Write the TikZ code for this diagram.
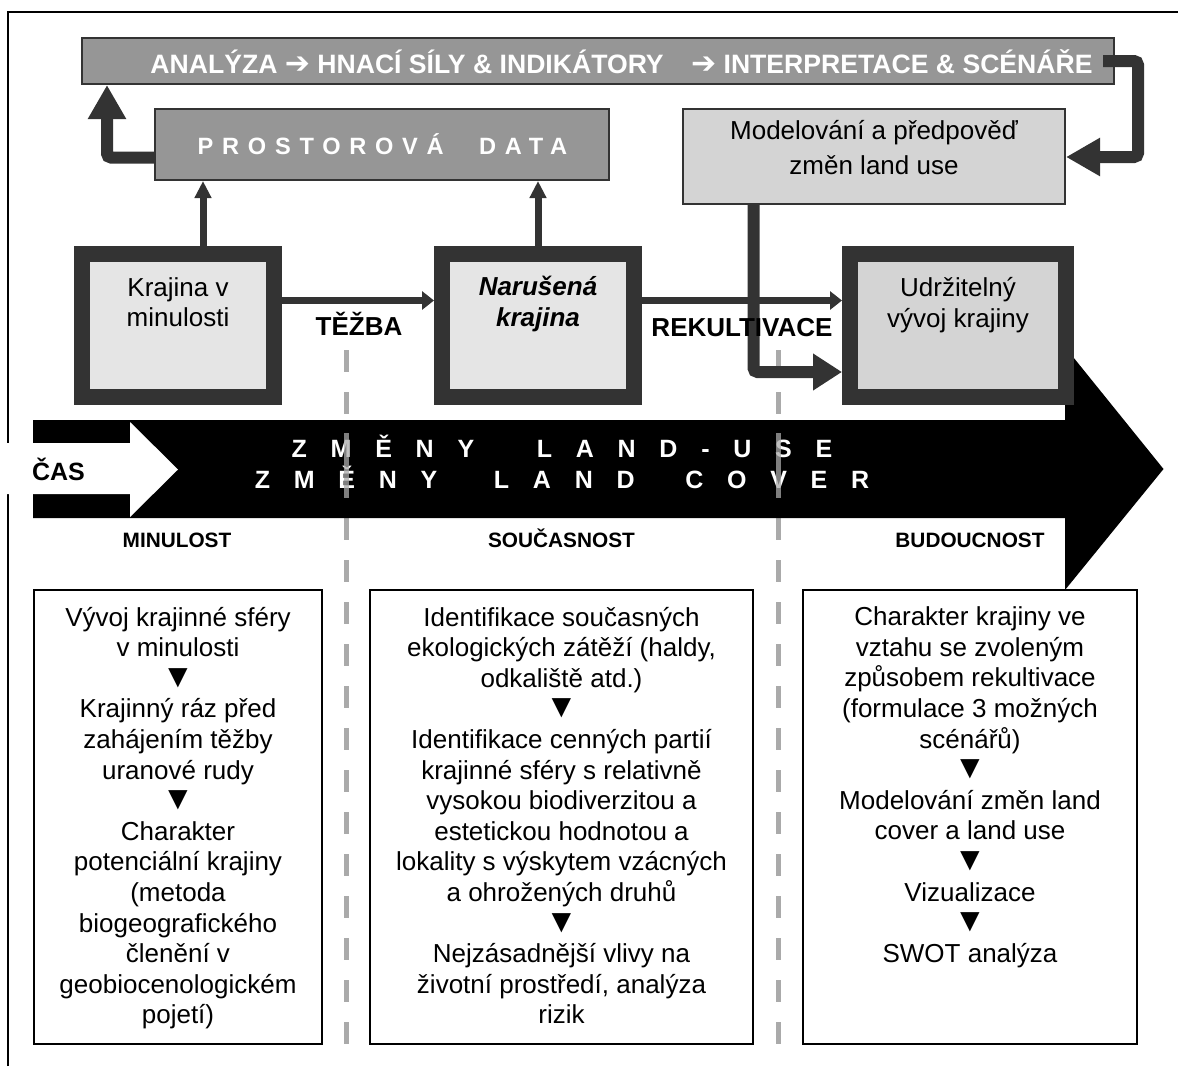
\documentclass[tikz,border=0pt]{standalone}
\usepackage{fontspec}
\setmainfont{Liberation Sans}
\newfontfamily\arrowfont{DejaVu Sans}
\newfontfamily\spacedfont[LetterSpace=37]{Liberation Sans}
\newfontfamily\widefont[LetterSpace=95]{Liberation Sans}
\usetikzlibrary{arrows.meta,positioning}

\definecolor{darkline}{HTML}{333333}
\definecolor{bargray}{HTML}{969696}
\definecolor{boxgray}{HTML}{D4D4D4}
\definecolor{palegray}{HTML}{E5E5E5}
\definecolor{dashgray}{HTML}{AAAAAA}

\newcommand{\nextstep}{{\fontsize{16.5pt}{15.3pt}\selectfont ▼}}
\newcommand{\thenarrow}{{\arrowfont\fontsize{15pt}{15pt}\selectfont ➔}}

\begin{document}
\begin{tikzpicture}[x=0.5pt, y=-0.5pt,
		every node/.style={inner sep=0pt},
		txt/.style={font=\fontsize{13pt}{15.3pt}\selectfont, align=center},
		tag/.style={font=\bfseries\fontsize{13pt}{15pt}\selectfont, anchor=base},
		period/.style={font=\bfseries\fontsize{10.4pt}{12pt}\selectfont, anchor=base},
		heavybox/.style={draw=darkline, line width=8pt, minimum height=71.5pt},
		notebox/.style={draw, line width=1pt, minimum height=227pt},
		thinarrow/.style={draw=darkline, line width=3.5pt, -{Triangle[length=6pt, width=9pt]}},
		uparrow/.style={draw=darkline, line width=3.5pt, -{Triangle[length=8.5pt, width=8pt]}},
		heavyarrow/.style={draw=darkline, line width=6pt, rounded corners=2pt, -{Triangle[length=17pt, width=18pt]}}]
	\useasboundingbox (0,0) rectangle (1178,1066);
	% Frame
	\draw[line width=1pt] (8,1066) -- (8,12) -- (1178,12);

	% Period borders
	\foreach \x in {346,778}
		\draw[dashgray, line width=2.5pt, dash pattern=on 11pt off 10pt] (\x,350) -- (\x,1044);

	% Time arrow
	\fill (33,420) -- (1065,420) -- (1065,347) -- (1163.5,469) -- (1065,590) -- (1065,518) -- (33,518) -- cycle;
	\fill[white] (0,443) -- (130,443) -- (130,422) -- (178,469.5) -- (130,517) -- (130,494) -- (0,494) -- cycle;
	\node[tag, font=\bfseries\fontsize{12.5pt}{14pt}\selectfont] (time) at (58.5,480) {ČAS};
	\node[anchor=base, text=white, font=\widefont\bfseries\fontsize{12.5pt}{14pt}\selectfont] (useline) at (562,457) {ZMĚNY\hspace{16pt} LAND-USE};
	\node[anchor=base, text=white, font=\widefont\bfseries\fontsize{12.5pt}{14pt}\selectfont] (coverline) at (562,488) {ZMĚNY\hspace{13pt} LAND\hspace{10pt} COVER};
	\foreach \x in {346,778}
		\draw[dashgray, line width=2.5pt, opacity=0.75] (\x,433) -- (\x,498);

	% Top row
	\node[draw=darkline, line width=1pt, fill=bargray, minimum width=516pt, minimum height=23pt] (flow) at (598,61) {};
	\node[tag, anchor=base west, text=white, font=\bfseries\fontsize{13.3pt}{15pt}\selectfont] (flowtext) at (150,73) {ANALÝZA \thenarrow{} HNACÍ SÍLY \& INDIKÁTORY\hspace{10pt} \thenarrow{} INTERPRETACE \& SCÉNÁŘE};
	\node[draw=darkline, line width=1pt, fill=bargray, minimum width=227pt, minimum height=35.5pt] (data) at (382,144.5) {};
	\node[anchor=base, text=white, font=\spacedfont\bfseries\fontsize{11.8pt}{14pt}\selectfont] (datatext) at (382.5,154) {PROSTOROVÁ\hspace{10pt} DATA};
	\node[draw=darkline, line width=1pt, fill=boxgray, minimum width=191pt, minimum height=47.5pt] (model) at (874,156.5) {};
	\node[txt, font=\fontsize{13pt}{17.5pt}\selectfont, below=5.75pt of model.north] (modeltext) {Modelování a předpověď\\změn land use};

	% Landscape states
	\node[heavybox, fill=palegray, minimum width=96pt] (past) at (178,325.5) {};
	\node[heavybox, fill=palegray, minimum width=96pt] (damaged) at (538,325.5) {};
	\node[heavybox, fill=boxgray, minimum width=108pt] (goal) at (958,325.5) {};
	\node[txt, below=15.5pt of past.north] (pasttext) {Krajina v\\minulosti};
	\node[txt, font=\bfseries\itshape\fontsize{13pt}{15.3pt}\selectfont, below=15pt of damaged.north] (damagedtext) {Narušená\\krajina};
	\node[txt, below=15.5pt of goal.north] (goaltext) {Udržitelný\\vývoj krajiny};

	% Connectors
	\draw[thinarrow] ([yshift=12.5pt]past.east) -- ([yshift=12.5pt]damaged.west);
	\draw[thinarrow] ([yshift=12.5pt]damaged.east) -- ([yshift=12.5pt]goal.west);
	\coordinate (pastup) at ([xshift=12.5pt]past.north);
	\draw[uparrow] (pastup) -- (pastup |- data.south);
	\draw[uparrow] (damaged.north) -- (damaged.north |- data.south);
	\coordinate (leftbend) at (107,157.5);
	\draw[heavyarrow] (data.west |- leftbend) -- (leftbend) -- (leftbend |- flow.south);
	\coordinate (rightbend) at (1138,157);
	\draw[heavyarrow] ([xshift=-6pt]flow.east) -| (rightbend) -- (rightbend -| model.east);
	\coordinate (modelbend) at (753.5,372);
	\draw[heavyarrow, -{Triangle[length=14.5pt, width=17.5pt]}] (modelbend |- model.south) -- (modelbend) -- (modelbend -| goal.west);
	\node[tag] (mining) at (359,335) {TĚŽBA};
	\node[tag] (reclaim) at (742,336) {REKULTIVACE};

	% Periods
	\node[period] (pastlabel) at (177,547) {MINULOST};
	\node[period] (nowlabel) at (561.5,547) {SOUČASNOST};
	\node[period] (futurelabel) at (970,547) {BUDOUCNOST};

	% Notes
	\node[notebox, minimum width=144pt] (pastnotes) at (178,817) {};
	\node[notebox, minimum width=191.5pt] (nownotes) at (561.5,817) {};
	\node[notebox, minimum width=167pt] (futurenotes) at (970,817) {};
	\node[txt, below=8.75pt of pastnotes.north] (pastlist) {Vývoj krajinné sféry\\v minulosti\\\nextstep\\Krajinný ráz před\\zahájením těžby\\uranové rudy\\\nextstep\\Charakter\\potenciální krajiny\\(metoda\\biogeografického\\členění v\\geobiocenologickém\\pojetí)};
	\node[txt, below=8.75pt of nownotes.north] (nowlist) {Identifikace současných\\ekologických zátěží (haldy,\\odkaliště atd.)\\\nextstep\\Identifikace cenných partií\\krajinné sféry s relativně\\vysokou biodiverzitou a\\estetickou hodnotou a\\lokality s výskytem vzácných\\a ohrožených druhů\\\nextstep\\Nejzásadnější vlivy na\\životní prostředí, analýza\\rizik};
	\node[txt, below=8.75pt of futurenotes.north] (futurelist) {Charakter krajiny ve\\vztahu se zvoleným\\způsobem rekultivace\\(formulace 3 možných\\scénářů)\\\nextstep\\Modelování změn land\\cover a land use\\\nextstep\\Vizualizace\\\nextstep\\SWOT analýza};
\end{tikzpicture}
\end{document}
